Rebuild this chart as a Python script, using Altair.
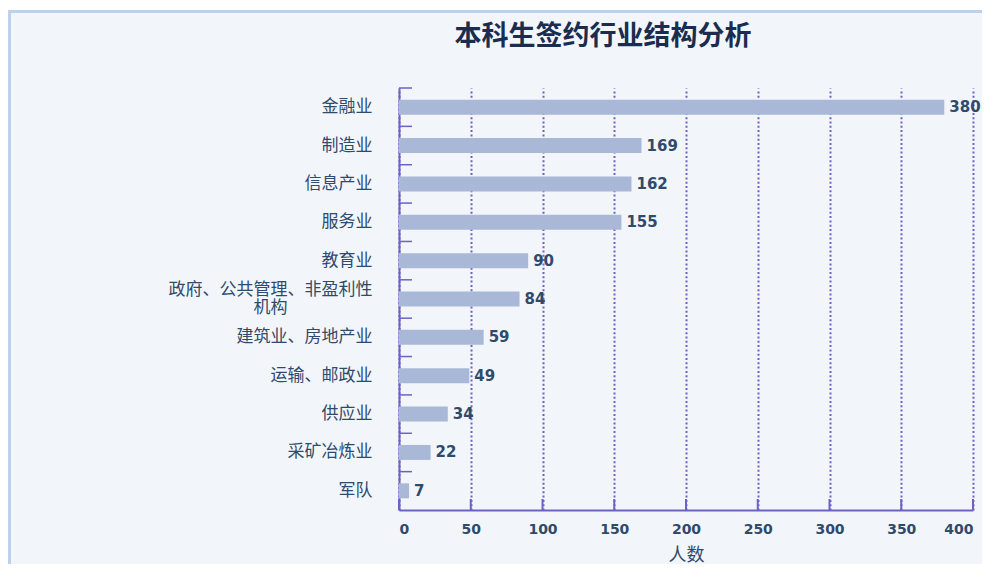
import altair as alt
import pandas as pd

categories = ["金融业", "制造业", "信息产业", "服务业", "教育业",
              "政府、公共管理、非盈利性机构", "建筑业、房地产业", "运输、邮政业",
              "供应业", "采矿冶炼业", "军队"]
counts = [380, 169, 162, 155, 90, 84, 59, 49, 34, 22, 7]
x_ticks = [0, 50, 100, 150, 200, 250, 300, 350, 400]

df = pd.DataFrame({"行业": categories, "人数": counts})
tick_df = pd.DataFrame({"t": x_ticks})

AXIS_COLOR = "#6c62c4"
TEXT_COLOR = "#2f4a6b"
BAR_COLOR = "#aab8d8"
CJK = "Noto Sans CJK SC"
LATIN = "DejaVu Sans"

y_scale = alt.Scale(paddingInner=0, paddingOuter=0)
long_test = "length(datum.value) > 12"
label_expr = ("length(datum.label) > 12 ? [substring(datum.label, 0, 12), "
              "substring(datum.label, 12)] : datum.label")

x_enc = alt.X("人数:Q",
              scale=alt.Scale(domain=[0, 400], nice=False),
              axis=alt.Axis(values=x_ticks, title="人数", grid=True,
                            gridDash=[2, 2.3], gridColor=AXIS_COLOR, gridWidth=2,
                            domainColor=AXIS_COLOR, domainWidth=2, tickSize=0,
                            labelPadding=12, labelFont=LATIN, labelFontSize=14,
                            labelFontWeight="bold",
                            labelColor=TEXT_COLOR, titleFont=CJK, titleFontSize=18,
                            titleFontWeight="normal", titleColor=TEXT_COLOR,
                            titlePadding=10))
y_enc = alt.Y("行业:N", sort=categories, scale=y_scale,
              axis=alt.Axis(title=None, domainColor=AXIS_COLOR, domainWidth=2,
                            ticks=False, tickSize=0,
                            labelPadding={"condition": {"test": long_test, "value": 129}, "value": 27},
                            labelAlign={"condition": {"test": long_test, "value": "center"}, "value": "right"},
                            labelOffset={"condition": {"test": long_test, "value": -9}, "value": 0},
                            labelFont=CJK,
                            labelFontSize=17, labelColor=TEXT_COLOR, labelLimit=400,
                            labelExpr=label_expr, labelLineHeight=18, grid=False))

bars = alt.Chart(df).mark_bar(size=15, color=BAR_COLOR).encode(x=x_enc, y=y_enc)

labels = alt.Chart(df).mark_text(align="left", baseline="middle", dx=5,
                                 font=LATIN, fontSize=15, fontWeight="bold",
                                 color=TEXT_COLOR).encode(
    x=alt.X("人数:Q"), y=alt.Y("行业:N", sort=categories), text="人数:Q")

ytick = alt.Chart(df).mark_rule(color=AXIS_COLOR, strokeWidth=1.5).encode(
    y=alt.Y("行业:N", sort=categories, bandPosition=0),
    x=alt.value(0), x2=alt.value(13))

xtick = alt.Chart(tick_df).mark_rule(color=AXIS_COLOR, strokeWidth=2).encode(
    x=alt.X("t:Q"), y=alt.value(411), y2=alt.value(422))

one = alt.Data(values=[{"a": 1}])
top_border = alt.Chart(one).mark_rule(color="#bcd2ea", strokeWidth=3).encode(
    x=alt.value(-391), x2=alt.value(600), y=alt.value(-76.5))
white_strip = alt.Chart(one).mark_rule(color="#ffffff", strokeWidth=3).encode(
    x=alt.value(-391), x2=alt.value(600), y=alt.value(-79.5))
left_border = alt.Chart(one).mark_rule(color="#bcd2ea", strokeWidth=3).encode(
    x=alt.value(-389.5), y=alt.value(-78), y2=alt.value(480))

chart = alt.layer(bars, labels, ytick, xtick, white_strip, top_border, left_border).properties(
    width=574, height=422,
    autosize=alt.AutoSizeParams(type="none"),
    padding={"left": 391, "top": 80, "right": 9, "bottom": 54},
    background="#f2f6fb",
    title=alt.Title("本科生签约行业结构分析", font=CJK, fontSize=27, fontWeight="bold",
                    color="#1b2d4f", anchor="middle", dx=-83, offset=0, dy=44),
).configure_view(stroke=None)

chart.save("out.html", embed_options={"renderer": "svg", "actions": False})
